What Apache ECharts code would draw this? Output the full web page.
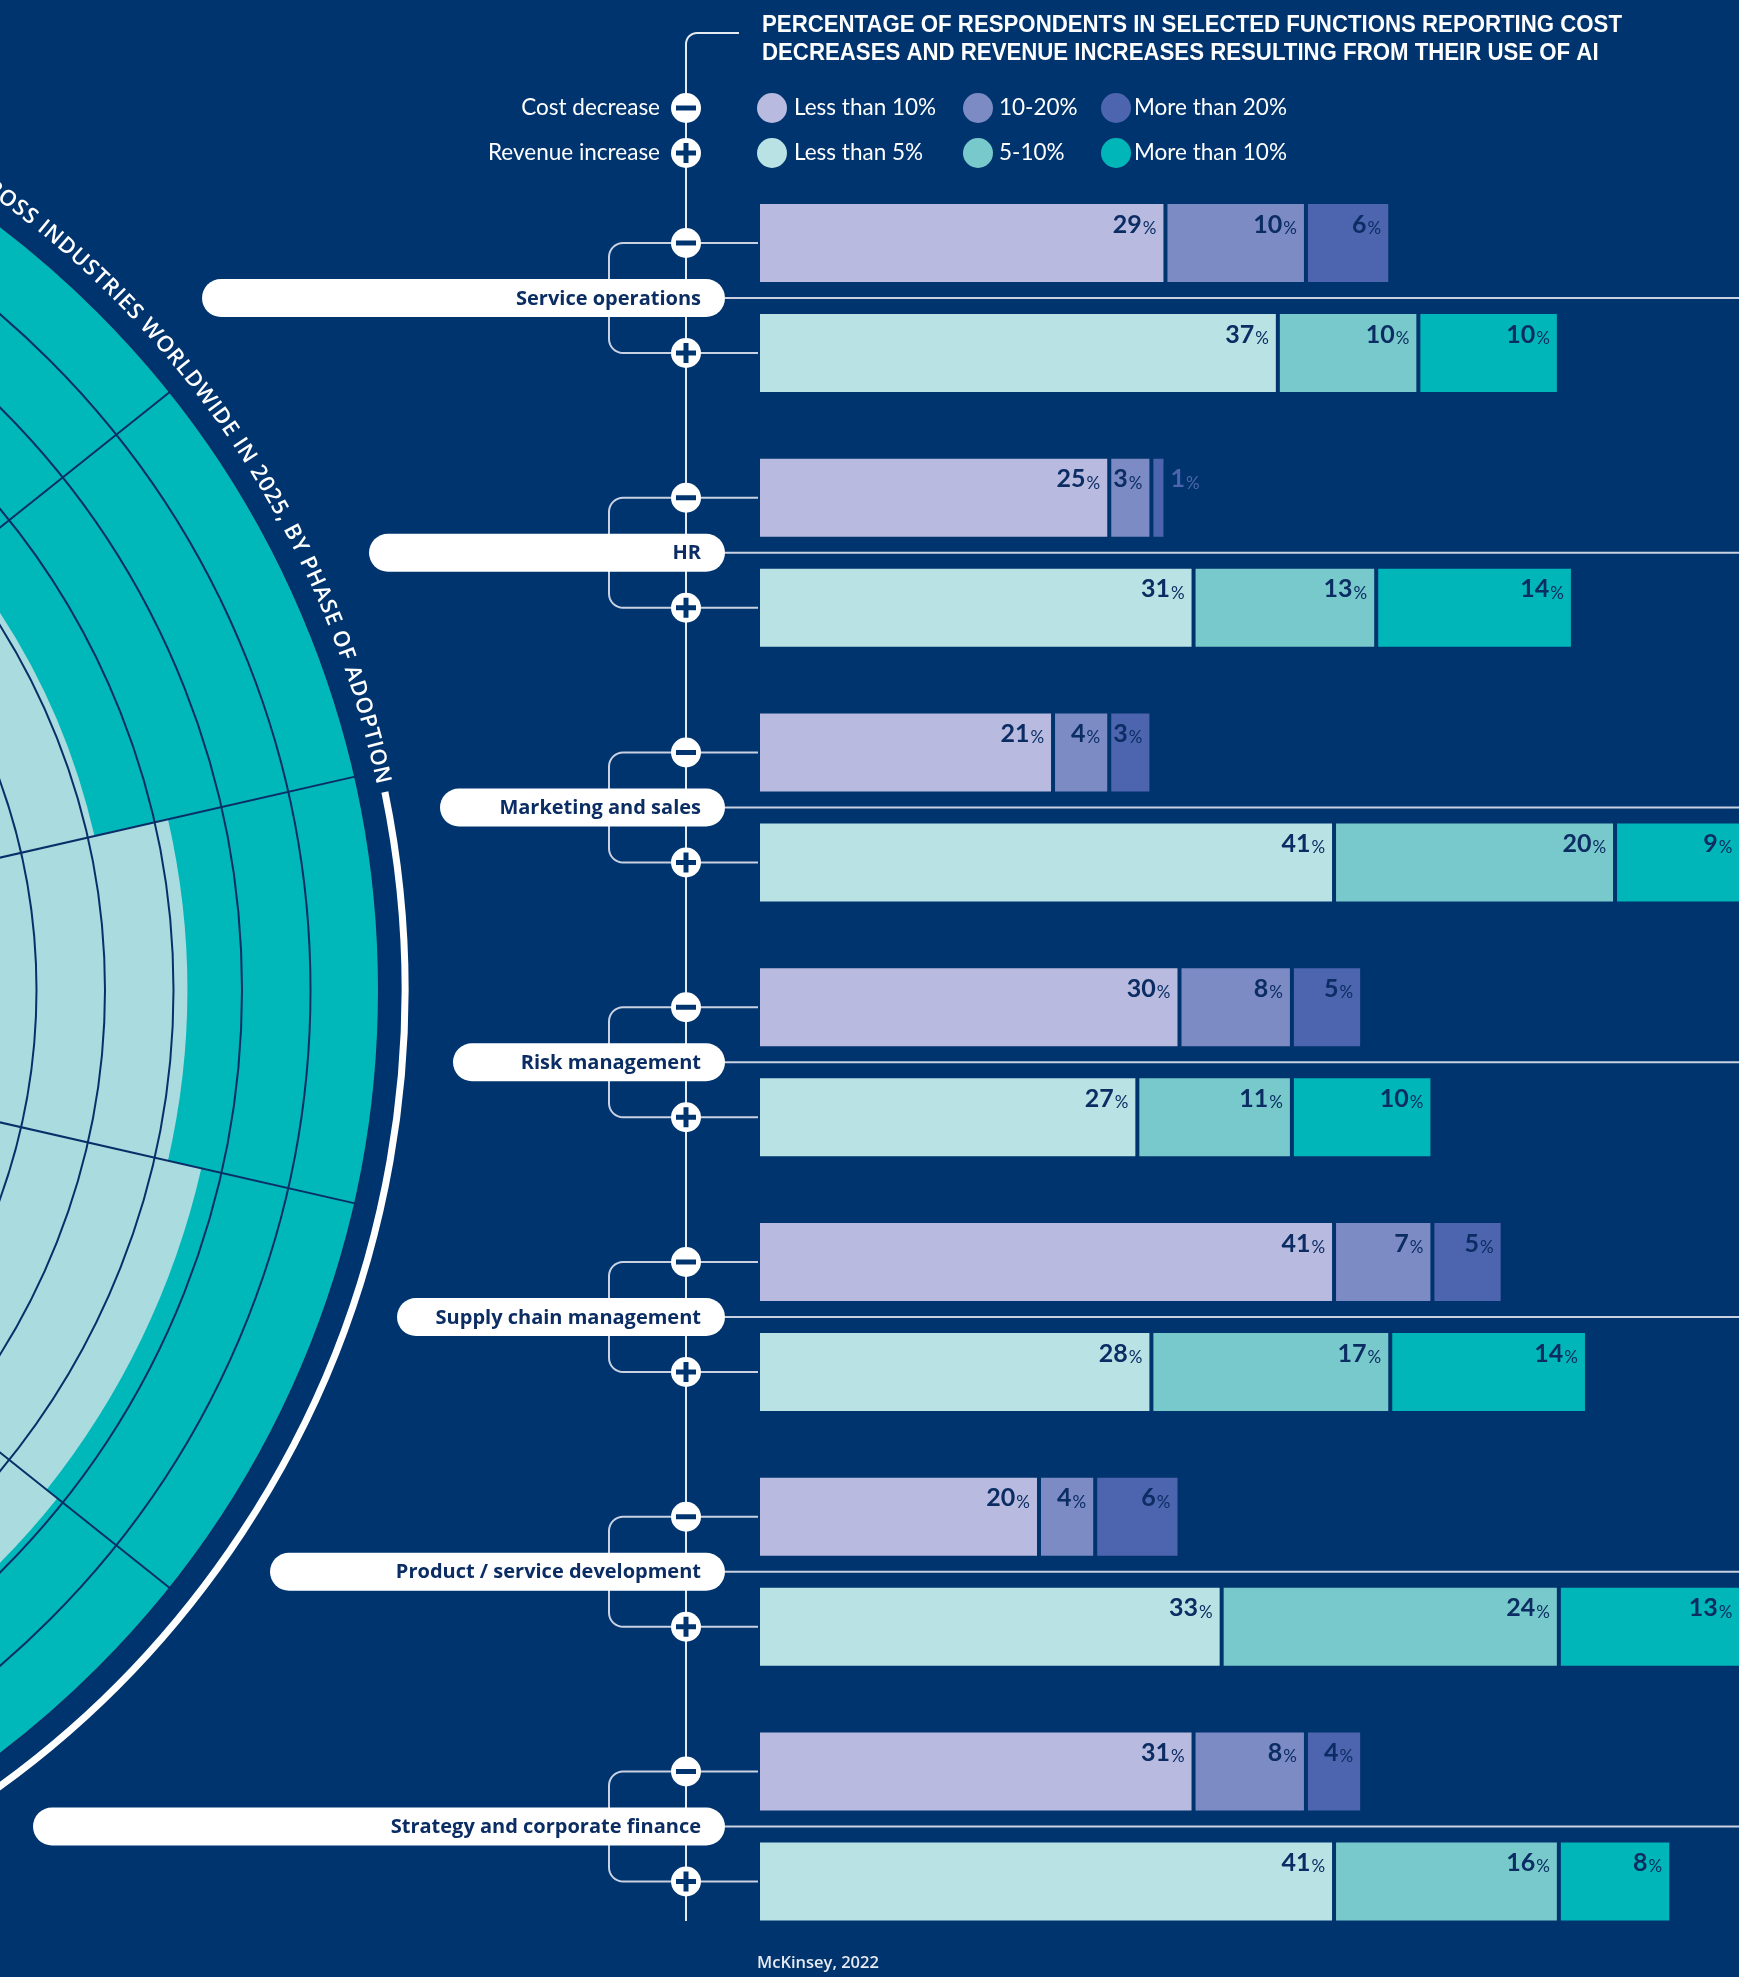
<!DOCTYPE html>
<html>
<head>
<meta charset="utf-8">
<script src="https://cdn.jsdelivr.net/npm/echarts@6/dist/echarts.min.js"></script>
<style>
  html, body { margin: 0; padding: 0; background: #00346e; }
  #chart { width: 1739px; height: 1977px; }
</style>
</head>
<body>
<div id="chart"></div>
<script>
// ---------- data ----------
const functions = [
  'Service operations',
  'HR',
  'Marketing and sales',
  'Risk management',
  'Supply chain management',
  'Product / service development',
  'Strategy and corporate finance'
];
// cost decrease, share of respondents (%)
const costUnder10 = [29, 25, 21, 30, 41, 20, 31];
const cost10to20  = [10, 3, 4, 8, 7, 4, 8];
const costOver20  = [6, 1, 3, 5, 5, 6, 4];
// revenue increase, share of respondents (%)
const revUnder5   = [37, 31, 41, 27, 28, 33, 41];
const rev5to10    = [10, 13, 20, 11, 17, 24, 16];
const revOver10   = [10, 14, 9, 10, 14, 13, 8];

const costLegend = ['Less than 10%', '10-20%', 'More than 20%'];
const revLegend  = ['Less than 5%', '5-10%', 'More than 10%'];

// radial adoption chart (14 sectors, radius in ring units)
const sectorIds = ['s01','s02','s03','s04','s05','s06','s07','s08','s09','s10','s11','s12','s13','s14'];
const outerReach = [14, 14, 14, 14, 14, 14, 14, 14, 14, 14, 14, 14, 14, 14];
const innerReach = [11.2, 11.7, 11.9, 12.3, 12.6, 12.4, 11.9, 11.4, 10.9, 10.4, 10.0, 9.7, 9.6, 10.1];

const titleLines = [
  'PERCENTAGE OF RESPONDENTS IN SELECTED FUNCTIONS REPORTING COST',
  'DECREASES AND REVENUE INCREASES RESULTING FROM THEIR USE OF AI'
];
const arcTitle = 'ACROSS INDUSTRIES WORLDWIDE IN 2025, BY PHASE OF ADOPTION';
const sourceText = 'McKinsey, 2022';

// ---------- layout & style ----------
const W = 1739;
const NAVY = '#00346e';
const INK = '#0b2d63';
const GRID_INK = '#0a2f68';
const LINE = '#c9d1e3';
const MAIN_LINE = '#e6eaf2';
const TEAL = '#00b7b9';
const LIGHT_TEAL = '#a9dbdf';
const costColors = ['#b8badf', '#7d8bc5', '#4d65ae'];
const revColors  = ['#b9e2e4', '#78c9cb', '#00b6b9'];

const BAR_W = 82, BAR_GAP_PX = 28;
const BAR_LEFT = 758, PX_PER_PCT = 14.05;
const GROUP_H = 254.75, FIRST_CENTER = 298;
const SPINE_X = 686, BRACKET_X = 609, PILL_RIGHT = 725, PILL_H = 38;
const pillLeft = [202, 369, 440, 453, 397, 270, 33];

const POLAR_CX = -580, POLAR_CY = 990, POLAR_R = 959;
const ARC_R = 985;

const chart = echarts.init(document.getElementById('chart'), null, { renderer: 'canvas' });

const valueLabel = {
  show: true,
  position: 'insideTopRight',
  distance: 9,
  color: INK,
  formatter: p => '{n|' + p.value + '}{u|%}',
  rich: {
    n: { fontFamily: 'Lato', fontWeight: 700, fontSize: 25, lineHeight: 26, verticalAlign: 'bottom' },
    u: { fontFamily: 'Lato', fontWeight: 400, fontSize: 17, lineHeight: 26, verticalAlign: 'bottom', padding: [0, 0, 0, 1] }
  }
};
// slim segments carry their label just outside the bar end
const outsideLabel = {
  position: ['100%', 9],
  align: 'left',
  verticalAlign: 'top',
  offset: [5, 0],
  color: '#4d65ae'
};

function barSeries(name, values, stack, color) {
  return {
    type: 'bar',
    name,
    stack,
    data: values.map(v => (v < 2 ? { value: v, label: outsideLabel } : v)),
    barWidth: BAR_W,
    barGap: (BAR_GAP_PX / BAR_W * 100).toFixed(2) + '%',
    clip: false,
    itemStyle: { color, borderColor: NAVY, borderWidth: 2 },
    label: valueLabel,
    silent: true,
    z: 3
  };
}

chart.setOption({
  backgroundColor: NAVY,
  animation: false,
  tooltip: { show: false },
  grid: {
    left: BAR_LEFT,
    right: 0,
    top: FIRST_CENTER - GROUP_H / 2,
    height: GROUP_H * functions.length
  },
  xAxis: { type: 'value', min: 0, max: (W - BAR_LEFT) / PX_PER_PCT, show: false },
  yAxis: { type: 'category', data: functions, inverse: true, show: false },
  polar: { center: [POLAR_CX, POLAR_CY], radius: [0, POLAR_R] },
  angleAxis: {
    type: 'category', data: sectorIds, startAngle: 360 / 28, clockwise: true,
    axisLine: { show: false }, axisTick: { show: false }, axisLabel: { show: false },
    splitLine: { show: true, lineStyle: { color: GRID_INK, width: 2 } },
    z: 10
  },
  radiusAxis: {
    type: 'value', min: 0, max: 14, interval: 1,
    axisLine: { show: false }, axisTick: { show: false }, axisLabel: { show: false },
    splitLine: { show: true, lineStyle: { color: GRID_INK, width: 2 } },
    z: 10
  },
  series: [
    { type: 'bar', coordinateSystem: 'polar', data: outerReach, barCategoryGap: '0%', barGap: '-100%',
      itemStyle: { color: TEAL }, silent: true, z: 1 },
    { type: 'bar', coordinateSystem: 'polar', data: innerReach, barCategoryGap: '0%', barGap: '-100%',
      itemStyle: { color: LIGHT_TEAL }, silent: true, z: 1 },
    barSeries(costLegend[0], costUnder10, 'cost', costColors[0]),
    barSeries(costLegend[1], cost10to20, 'cost', costColors[1]),
    barSeries(costLegend[2], costOver20, 'cost', costColors[2]),
    barSeries(revLegend[0], revUnder5, 'rev', revColors[0]),
    barSeries(revLegend[1], rev5to10, 'rev', revColors[1]),
    barSeries(revLegend[2], revOver10, 'rev', revColors[2])
  ]
});

// ---------- decorations ----------
const g = [];
const measureCtx = document.createElement('canvas').getContext('2d');
const deg = Math.PI / 180;

// quarter-circle corner points, angles in screen degrees
function corner(cx, cy, r, a0, a1) {
  const pts = [];
  for (let k = 0; k <= 8; k++) {
    const a = (a0 + (a1 - a0) * k / 8) * deg;
    pts.push([cx + r * Math.cos(a), cy + r * Math.sin(a)]);
  }
  return pts;
}
function polyline(points, stroke, width, z) {
  g.push({ type: 'polyline', z, silent: true, shape: { points },
    style: { stroke, lineWidth: width, fill: null } });
}
function text(str, x, y, font, fill, align, z, extra) {
  g.push(Object.assign({ type: 'text', x, y, z, silent: true,
    style: { text: str, font, fill, textAlign: align, textVerticalAlign: 'middle' } }, extra || {}));
}
// round white badge with a minus or plus sign
function icon(x, y, plus) {
  g.push({ type: 'circle', z: 80, silent: true, shape: { cx: x, cy: y, r: 15 }, style: { fill: '#ffffff' } });
  g.push({ type: 'rect', z: 81, silent: true, shape: { x: x - 10, y: y - 2.5, width: 20, height: 5 }, style: { fill: NAVY } });
  if (plus) {
    g.push({ type: 'rect', z: 81, silent: true, shape: { x: x - 2.5, y: y - 10, width: 5, height: 20 }, style: { fill: NAVY } });
  }
}

// title with its bracket into the spine
const titleFont = 'bold 24px "Liberation Sans", Arial, sans-serif';
measureCtx.font = titleFont;
const titleScale = 860 / measureCtx.measureText(titleLines[0]).width;
titleLines.forEach((t, i) => text(t, 762, 25 + i * 28.5, titleFont, '#ffffff', 'left', 90, { scaleX: titleScale }));
polyline([[739, 33]].concat(corner(697, 44, 11, 270, 180), [[686, 1921]]), MAIN_LINE, 2, 40);

// legend
const legendFont = '22.5px Lato, "Open Sans", sans-serif';
const legendRows = [
  { label: 'Cost decrease', y: 108, plus: false, items: costLegend, colors: costColors },
  { label: 'Revenue increase', y: 153, plus: true, items: revLegend, colors: revColors }
];
const swatchX = [772, 978, 1116], swatchTextX = [794, 999, 1134];
legendRows.forEach(row => {
  text(row.label, 660, row.y, legendFont, '#ffffff', 'right', 90);
  icon(SPINE_X, row.y, row.plus);
  row.items.forEach((it, k) => {
    g.push({ type: 'circle', z: 90, silent: true, shape: { cx: swatchX[k], cy: row.y, r: 15 }, style: { fill: row.colors[k] } });
    text(it, swatchTextX[k], row.y, legendFont, '#ffffff', 'left', 90);
  });
});

// per-function brackets, pills and separators, positioned from the category axis
const half = (BAR_W + BAR_GAP_PX) / 2;
const CR = 14;
functions.forEach((f, i) => {
  const yc = chart.convertToPixel({ yAxisIndex: 0 }, f);
  const ya = yc - half, yb = yc + half;
  polyline([[PILL_RIGHT, yc], [W, yc]], LINE, 2, 40);
  polyline([[BAR_LEFT, ya]]
    .concat(corner(BRACKET_X + CR, ya + CR, CR, 270, 180))
    .concat(corner(BRACKET_X + CR, yb - CR, CR, 180, 90))
    .concat([[BAR_LEFT, yb]]), LINE, 2, 40);
  g.push({ type: 'rect', z: 60, silent: true,
    shape: { x: pillLeft[i], y: yc - PILL_H / 2, width: PILL_RIGHT - pillLeft[i], height: PILL_H, r: PILL_H / 2 },
    style: { fill: '#ffffff' } });
  text(f, 701, yc + 1, 'bold 20px "Open Sans", Lato, sans-serif', INK, 'right', 61);
  icon(SPINE_X, ya, false);
  icon(SPINE_X, yb, true);
});

// white rim around the radial chart
g.push({ type: 'arc', z: 30, silent: true,
  shape: { cx: POLAR_CX, cy: POLAR_CY, r: ARC_R, startAngle: -11.6 * deg, endAngle: 85 * deg, clockwise: true },
  style: { stroke: '#ffffff', lineWidth: 7, fill: null } });

// curved heading set along the rim
const arcFont = '600 22px "Open Sans", sans-serif';
measureCtx.font = arcFont;
const chars = arcTitle.split('');
const adv = chars.map(c => measureCtx.measureText(c).width);
const anchorIdx = arcTitle.indexOf('OSS') + 1;
const lastIdx = chars.length - 1;
let natural = 0;
for (let i = anchorIdx; i < lastIdx; i++) natural += (adv[i] + adv[i + 1]) / 2;
const spacing = ((52.5 - 12.6) * deg * ARC_R - natural) / (lastIdx - anchorIdx);
const pos = new Array(chars.length);
let s = 0;
pos[anchorIdx] = 0;
for (let i = anchorIdx + 1; i < chars.length; i++) { s += (adv[i - 1] + adv[i]) / 2 + spacing; pos[i] = s; }
s = 0;
for (let i = anchorIdx - 1; i >= 0; i--) { s -= (adv[i + 1] + adv[i]) / 2 + spacing; pos[i] = s; }
chars.forEach((c, i) => {
  if (c === ' ') return;
  const th = 52.5 * deg - pos[i] / ARC_R;
  text(c, POLAR_CX + ARC_R * Math.cos(th), POLAR_CY - ARC_R * Math.sin(th), arcFont, '#ffffff', 'center', 30,
    { rotation: th - Math.PI / 2 });
});

// source
text(sourceText, 757, 1963, '600 16.5px "Open Sans", sans-serif', MAIN_LINE, 'left', 90);

chart.setOption({ graphic: { elements: g } });
</script>
</body>
</html>
